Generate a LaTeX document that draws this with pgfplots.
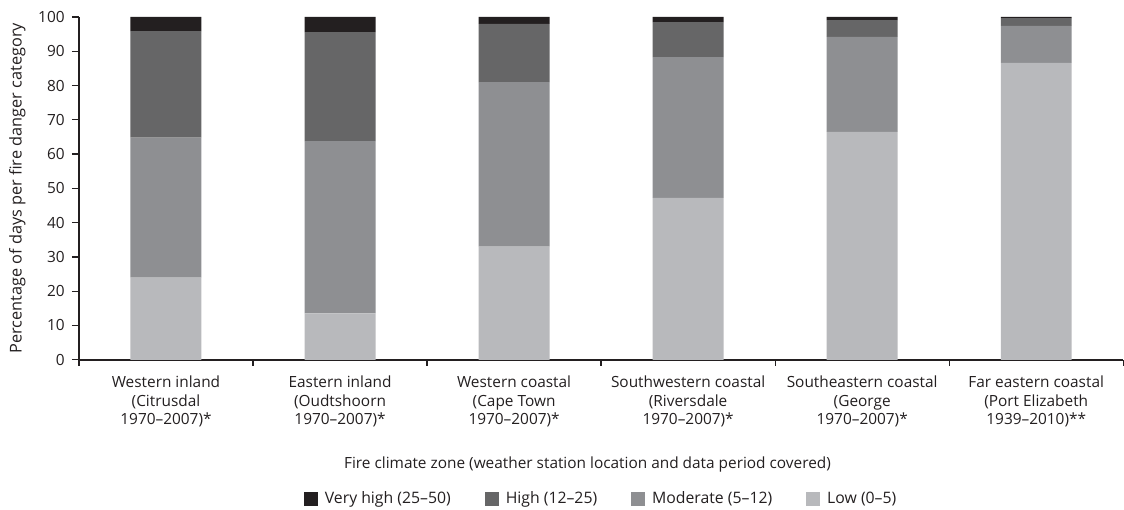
\documentclass[border=0pt]{standalone}
\usepackage{pgfplots}
\pgfplotsset{compat=1.18}
\usepackage{fontspec}
\setmainfont{Open Sans}
\definecolor{cvh}{HTML}{231F20}
\definecolor{chi}{HTML}{666667}
\definecolor{cmo}{HTML}{8E8F92}
\definecolor{clo}{HTML}{B8B9BC}
\newcommand{\lf}{\fontsize{15.4pt}{18.5pt}\selectfont}
\begin{document}
\lf
\begin{tikzpicture}
\begin{axis}[
  name=ax,
  scale only axis, width=1045pt, height=343pt,
  ybar stacked, bar width=71pt,
  xmin=-0.5, xmax=5.5, ymin=0, ymax=100,
  ytick={0,10,...,100},
  xtick={0,...,5},
  xticklabels={{Western inland\\(Citrusdal\\1970--2007)*},
               {Eastern inland\\(Oudtshoorn\\1970--2007)*},
               {Western coastal\\(Cape Town\\1970--2007)*},
               {Southwestern coastal\\(Riversdale\\1970--2007)*},
               {Southeastern coastal\\(George\\1970--2007)*},
               {Far eastern coastal\\(Port Elizabeth\\1939--2010)**}},
  minor xtick={-0.5,0.5,...,5.5},
  major x tick style={draw=none},
  minor x tick style={line width=1.3pt, color=cvh},
  y tick style={line width=1.3pt, color=cvh},
  tick align=outside,
  major tick length=7pt, minor tick length=6pt,
  axis x line*=bottom, axis y line*=left,
  axis line style={line width=1.5pt, color=cvh, -},
  xticklabel style={align=center, font=\lf, text=cvh, yshift=-4pt},
  yticklabel style={font=\lf, text=cvh, xshift=-2pt},
  /pgf/number format/assume math mode=true,
  xlabel={Fire climate zone (weather station location and data period covered)},
  xlabel style={at={(axis description cs:0.487,-0.306)}, anchor=center, font=\lf, text=cvh},
  ylabel={Percentage of days per fire danger category},
  ylabel style={at={(axis description cs:-0.0589,0.5)}, anchor=center, font=\fontsize{16.3pt}{19pt}\selectfont, text=cvh},
  legend columns=4,
  reverse legend,
  legend style={at={(0.5,-0.405)}, anchor=center, draw=none, fill=none,
    font=\fontsize{15.8pt}{18.5pt}\selectfont, text=cvh,
    /tikz/every even column/.append style={column sep=32pt}},
  legend image code/.code={\fill[#1] (0pt,-7pt) rectangle (14pt,7pt); \path (19pt,0pt);},
]
\addplot[fill=clo, draw=none] coordinates {(0,24) (1,13.5) (2,33) (3,47.2) (4,66.5) (5,86.6)};
\addplot[fill=cmo, draw=none] coordinates {(0,40.8) (1,50.3) (2,48) (3,41.1) (4,27.7) (5,10.8)};
\addplot[fill=chi, draw=none] coordinates {(0,31.1) (1,31.8) (2,17) (3,10.2) (4,4.9) (5,2.3)};
\addplot[fill=cvh, draw=none] coordinates {(0,4.1) (1,4.4) (2,2) (3,1.5) (4,0.9) (5,0.3)};
\legend{Low (0--5), Moderate (5--12), High (12--25), Very high (25--50)}
\end{axis}
\path ([xshift=-79pt,yshift=-150pt]ax.south west) ([yshift=17pt]ax.north east);
\end{tikzpicture}
\end{document}
